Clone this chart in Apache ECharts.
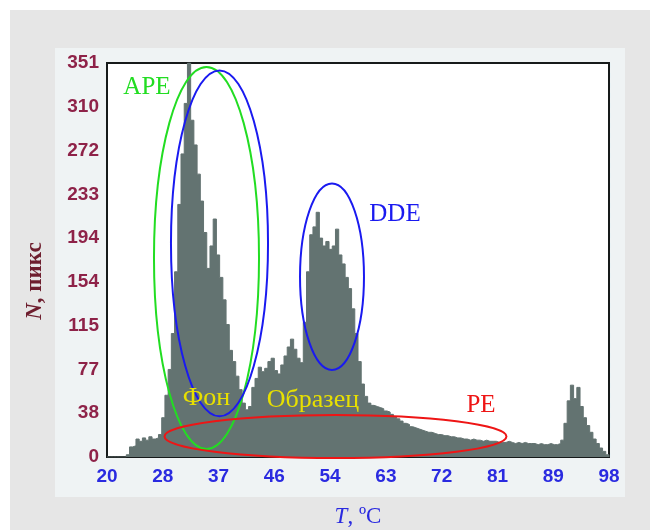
<!DOCTYPE html>
<html>
<head>
<meta charset="utf-8">
<style>
html,body{margin:0;padding:0;background:#ffffff;}
#c{width:650px;height:530px;}
</style>
<script src="https://cdn.jsdelivr.net/npm/echarts@6/dist/echarts.min.js"></script>
</head>
<body>
<div id="c"></div>
<script>
// Histogram: counts per 0.5 °C bin, starting at 20 °C
var binStart = 20;
var binWidth = 0.5;
var counts = [
  0,0,0,0,0,0,            // 20.0 - 22.5
  2,9,10,16,14,17,15,18,16,17,   // 23.0 - 27.5
  20,35,55,78,110,165,225,270,315,351,   // 28.0 - 32.5
  300,278,252,228,200,168,188,212,180,160, // 33.0 - 37.5
  140,118,95,85,72,60,48,42,45,62,         // 38.0 - 42.5
  70,80,76,79,85,88,77,74,82,90,           // 43.0 - 47.5
  98,105,96,88,84,120,165,198,205,218,     // 48.0 - 52.5
  195,188,192,185,188,203,180,172,160,150, // 53.0 - 57.5
  132,110,85,65,54,48,46,45,44,43,         // 58.0 - 62.5
  41,40,38,36,34,32,30,29,27,26,           // 63.0 - 67.5
  25,24,23,22,22,21,20,20,19,19,           // 68.0 - 72.5
  18,18,17,17,16,16,15,16,15,15,           // 73.0 - 77.5
  14,15,14,14,14,13,13,13,14,13,           // 78.0 - 82.5
  12,13,12,13,12,12,12,11,12,11,           // 83.0 - 87.5
  11,12,11,11,12,15,30,50,64,52,           // 88.0 - 92.5
  62,45,35,28,22,16,12,8,5,2               // 93.0 - 97.5
];

var xTickLabels = ['20','28','37','46','54','63','72','81','89','98'];
var yTickLabels = ['0','38','77','115','154','194','233','272','310','351'];

// Annotations in data coordinates: [T centre, N centre], [T radius, N radius]
var annoEllipses = [
  {name:'APE',  c:[35.46, 177.3], r:[8.16, 170.2], color:'#22dd22'},
  {name:'APE2', c:[37.48, 190.3], r:[7.54, 154.1], color:'#1a1af0'},
  {name:'DDE',  c:[54.96, 160.6], r:[4.97, 83.1],  color:'#1a1af0'},
  {name:'PE',   c:[55.50, 18.3],  r:[26.57, 19.2], color:'#ee1515'}
];
var annoTexts = [
  {text:'APE',     at:[26.21, 329.2], color:'#22dd22', size:25},
  {text:'DDE',     at:[64.75, 216.5], color:'#1a1af0', size:25},
  {text:'PE',      at:[78.11, 46.3],  color:'#ee1515', size:25},
  {text:'Фон',     at:[35.46, 52.6],  color:'#e8e000', size:26},
  {text:'Образец', at:[52.0, 50.8],   color:'#e8e000', size:26}
];

var seriesData = counts.map(function(v, i){ return [binStart + i*binWidth, v]; });
seriesData.push([binStart + counts.length*binWidth, 0]);

var chart = echarts.init(document.getElementById('c'), null, {renderer:'canvas'});

var baseGraphic = [
  {type:'rect', z:-10, silent:true, shape:{x:10,y:10,width:640,height:520}, style:{fill:'#e6e6e6'}},
  {type:'rect', z:-9, silent:true, shape:{x:55,y:48,width:570,height:449}, style:{fill:'#eff3f4'}},
  {type:'text', z:5, silent:true, x:35, y:281, rotation:Math.PI/2,
   style:{text:'{i|N}, пикс', align:'center', verticalAlign:'middle', fill:'#6e1e2e',
     font:'bold 23px "Liberation Serif"',
     rich:{i:{fontStyle:'italic', fontWeight:'bold', fontFamily:'Liberation Serif', fontSize:23, fill:'#6e1e2e'}}}}
];

var option = {
  backgroundColor: '#ffffff',
  animation: false,
  graphic: baseGraphic,
  grid: {
    left:107, top:63, right:41, bottom:73,
    outerBoundsMode:'none', containLabel:false,
    show:true, backgroundColor:'#ffffff', borderColor:'#161a1a', borderWidth:2, z:1
  },
  xAxis: [
    {type:'value', min:20, max:98, show:false},
    {type:'value', min:0, max:9, interval:1, position:'bottom',
     axisLine:{show:false}, axisTick:{show:false},
     axisLabel:{color:'#2a2ae0', fontFamily:'Liberation Sans', fontSize:19, fontWeight:'bold', margin:10,
       formatter:function(v){ return xTickLabels[Math.round(v)]; }},
     splitLine:{show:true, lineStyle:{color:'#b4ecf8', type:[5,5], width:1.2}},
     name:'{i|T}, ºC', nameLocation:'middle', nameGap:48,
     nameTextStyle:{color:'#2a2ae0', fontFamily:'Liberation Serif', fontSize:23,
       rich:{i:{fontStyle:'italic', color:'#2a2ae0', fontFamily:'Liberation Serif', fontSize:23}}}
    }
  ],
  yAxis: {
    type:'value', min:0, max:351, interval:39,
    axisLine:{show:false}, axisTick:{show:false},
    axisLabel:{color:'#8e2248', fontFamily:'Liberation Sans', fontSize:19, fontWeight:'bold', margin:8,
      formatter:function(v){ return yTickLabels[Math.round(v/39)]; }},
    splitLine:{show:true, lineStyle:{color:'#f0cdd8', type:[6,6], width:1.2}}
  },
  series: [{
    type:'line', xAxisIndex:0, yAxisIndex:0,
    step:'end', symbol:'none', data:seriesData,
    lineStyle:{color:'#637371', width:1},
    areaStyle:{color:'#637371', opacity:1},
    z:3
  }]
};
chart.setOption(option);

function drawAnnotations(){
  var g = baseGraphic.slice();
  annoEllipses.forEach(function(e){
    var c = chart.convertToPixel({xAxisIndex:0, yAxisIndex:0}, e.c);
    var p = chart.convertToPixel({xAxisIndex:0, yAxisIndex:0}, [e.c[0]+e.r[0], e.c[1]+e.r[1]]);
    g.push({type:'ellipse', z:50, silent:true,
      shape:{cx:c[0], cy:c[1], rx:Math.abs(p[0]-c[0]), ry:Math.abs(c[1]-p[1])},
      style:{fill:null, stroke:e.color, lineWidth:2}});
  });
  annoTexts.forEach(function(t){
    var c = chart.convertToPixel({xAxisIndex:0, yAxisIndex:0}, t.at);
    g.push({type:'text', z:51, silent:true, x:c[0], y:c[1],
      style:{text:t.text, fill:t.color, font:t.size + 'px "Liberation Serif"', align:'center', verticalAlign:'middle'}});
  });
  chart.setOption({graphic:g}, {replaceMerge:['graphic']});
}
drawAnnotations();
</script>
</body>
</html>
